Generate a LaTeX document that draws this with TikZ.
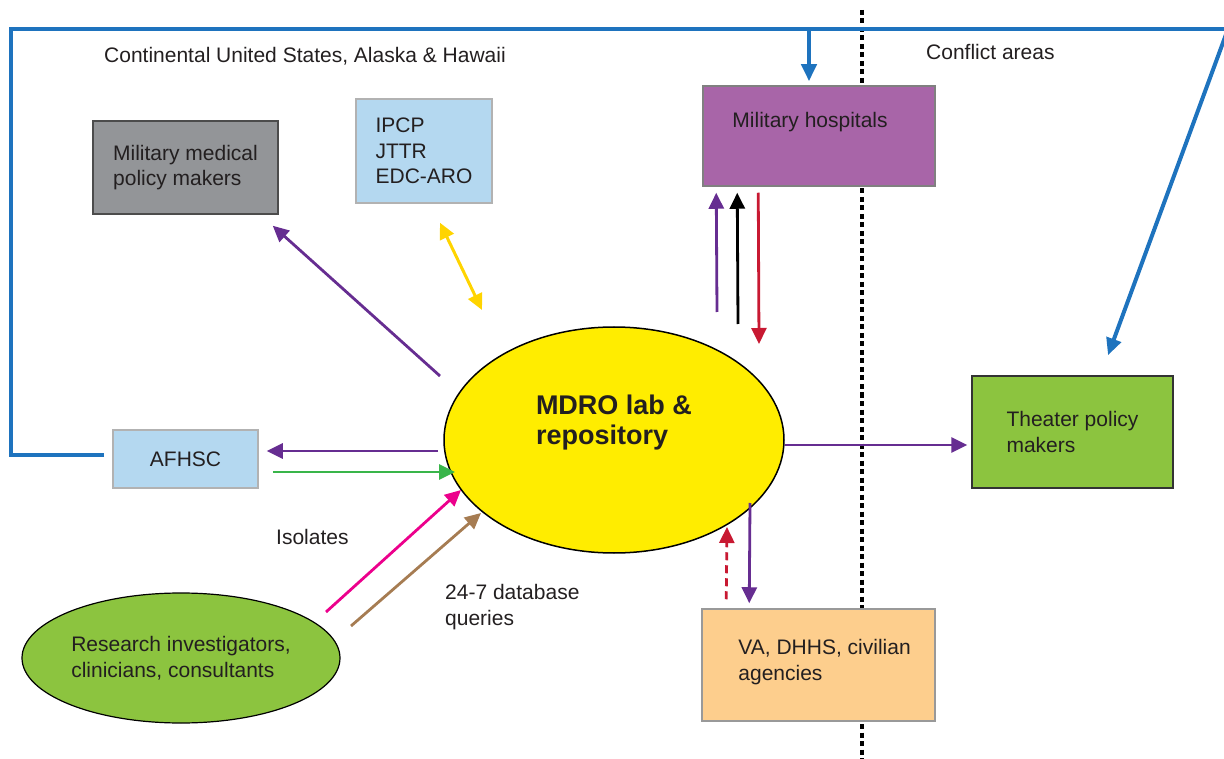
\documentclass[tikz,border=0pt]{standalone}
\usepackage{fontspec}
\setmainfont{Liberation Sans}
\usetikzlibrary{arrows.meta,shapes.geometric}
\definecolor{framebl}{RGB}{30,115,190}
\definecolor{arrpur}{RGB}{102,45,145}
\definecolor{arrred}{RGB}{200,25,50}
\definecolor{arrgrn}{RGB}{57,181,74}
\definecolor{arrmag}{RGB}{236,0,140}
\definecolor{arrbrn}{RGB}{166,124,82}
\definecolor{arryel}{RGB}{255,212,0}
\definecolor{boxgray}{RGB}{147,149,152}
\definecolor{boxblue}{RGB}{180,216,240}
\definecolor{boxpur}{RGB}{168,101,168}
\definecolor{boxgrn}{RGB}{140,196,63}
\definecolor{boxorg}{RGB}{253,206,141}
\definecolor{mdroyel}{RGB}{255,237,0}
\definecolor{txtdark}{RGB}{35,31,32}
\begin{document}
\begin{tikzpicture}[x=1pt, y=-1pt, >={Triangle[length=16pt,width=15pt]},
  every node/.style={font=\fontsize{21}{25.5}\selectfont, align=left, text=txtdark},
  box/.style={rectangle, draw=black!45, line width=1.5pt, inner sep=0pt},
  freetxt/.style={anchor=west, inner sep=0pt},
  conn/.style={->, line width=2.8pt},
  bluearr/.style={framebl, line width=4pt, ->, >={Triangle[length=17pt,width=15pt]}}]
\useasboundingbox (0,0) rectangle (1224,759);

% home / conflict border
\draw[line width=4pt, dash pattern=on 5pt off 3.5pt] (862,10) -- (862,759);

\node[box, fill=boxgray, draw=black!70, minimum width=185pt, minimum height=93pt] (mmp) at (185.5,167.5) {Military medical\\policy makers};
\node[box, fill=boxblue, draw=black!30, minimum width=136pt, minimum height=104pt] (ipcp) at (424,151) {IPCP\\JTTR\\EDC-ARO};
\node[box, fill=boxpur, draw=black!50, minimum width=232pt, minimum height=100pt,
  label={[anchor=north west, inner sep=0pt, shift={(30,27)}]north west:Military hospitals}] (mh) at (819,136) {};
\node[box, fill=boxgrn, draw=black!80, minimum width=201pt, minimum height=112pt] (tpm) at (1072.5,432) {Theater policy\\makers};
\node[box, fill=boxblue, draw=black!30, minimum width=145pt, minimum height=58pt] (afhsc) at (185.5,459) {AFHSC};
\node[box, fill=boxorg, draw=black!40, minimum width=233pt, minimum height=112pt,
  label={[anchor=west, inner sep=0pt, shift={(37,-3)}]west:VA, DHHS, civilian\\agencies}] (va) at (818.5,665) {};
\node[ellipse, draw, line width=1.2pt, fill=boxgrn, minimum width=318pt, minimum height=130pt, inner sep=0pt] (ri) at (181,658) {Research investigators,\\clinicians, consultants};
\node[ellipse, draw, line width=1.5pt, fill=mdroyel, minimum width=340pt, minimum height=226pt,
  label={[font=\fontsize{27}{30}\selectfont\bfseries, yshift=17pt]center:MDRO lab \&\\repository}] (mdro) at (614,440) {};

\node[freetxt] (conus) at (104,56) {Continental United States, Alaska \& Hawaii};
\node[freetxt] (conflict) at (926,52) {Conflict areas};
\node[freetxt] (isol) at (276,537) {Isolates};
\node[freetxt] (query) at (445,607) {24-7 database\\queries};

% blue frame
\coordinate (homeend) at (104,455);
\coordinate (hq) at (809,29);
\coordinate (fr) at (1228,29);
\draw[framebl, line width=4pt] (homeend) -- (11,455) -- (11,29) -- (1230,29);
\draw[bluearr] (hq) -- ([shift={(-10,-4)}]mh.north);
\draw[bluearr] (fr) -- ([shift={(35.5,-20)}]tpm.north);

% flows
\draw[conn, arrpur] ([shift={(-174,-64)}]mdro.center) -- ([shift={(-6,11)}]mmp.south east);
\draw[<->, line width=3pt, arryel] ([shift={(16,19)}]ipcp.south) -- ([shift={(-132,-130)}]mdro.center);
\draw[conn, arrpur] ([shift={(103,-128)}]mdro.center) -- ([shift={(14,6)}]mh.south west);
\draw[conn, black] ([shift={(124,-116)}]mdro.center) -- ([shift={(35,6)}]mh.south west);
\draw[conn, arrred] ([shift={(56,6)}]mh.south west) -- ([shift={(145,-96)}]mdro.center);
\draw[conn, arrpur] ([shift={(-176,11)}]mdro.center) -- ([shift={(8,-8)}]afhsc.east);
\draw[conn, arrgrn] ([shift={(14,13)}]afhsc.east) -- ([shift={(-159,32)}]mdro.center);
\draw[conn, arrmag] ([shift={(145,-46)}]ri.center) -- ([shift={(-153,50)}]mdro.center);
\draw[conn, arrbrn] ([shift={(170,-32)}]ri.center) -- ([shift={(-133,73)}]mdro.center);
\draw[conn, arrpur] ([shift={(171,5)}]mdro.center) -- ([shift={(-4,13)}]tpm.west);
\draw[conn, arrred, dash pattern=on 8pt off 5pt] ([shift={(25,-9)}]va.north west) -- ([shift={(113,87)}]mdro.center);
\draw[conn, arrpur] ([shift={(136,63)}]mdro.center) -- ([shift={(48,-5)}]va.north west);
\end{tikzpicture}
\end{document}
